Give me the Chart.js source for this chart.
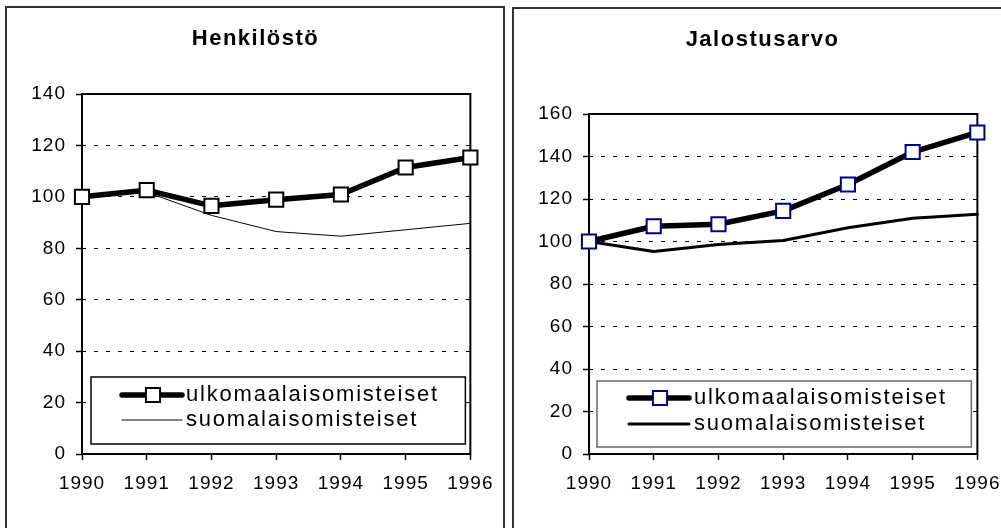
<!DOCTYPE html>
<html><head><meta charset="utf-8">
<script src="https://cdn.jsdelivr.net/npm/chart.js@4"></script>
<style>
html,body{margin:0;padding:0;background:#fff;}
body{width:1001px;height:528px;overflow:hidden;position:relative;}
.panel{position:absolute;border:2px solid #333;box-sizing:border-box;}
canvas{position:absolute;top:0;}
</style></head><body>
<div class="panel" style="left:5px;top:6px;width:500px;height:620px"></div>
<div class="panel" style="left:512px;top:7px;width:500px;height:620px"></div>
<canvas id="c1" width="497" height="528" style="left:7px"></canvas>
<canvas id="c2" width="497" height="528" style="left:514px"></canvas>
<script>
const years = ['1990','1991','1992','1993','1994','1995','1996'];
const seriesNames = ['ulkomaalaisomisteiset','suomalaisomisteiset'];
const titles = ['Henkilöstö','Jalostusarvo'];
const henkUlko = [100, 102.6, 96.5, 98.9, 100.9, 111.4, 115.3];
const henkSuomi = [100, 101.8, 92.8, 86.5, 84.7, 87.2, 89.7];
const jalUlko = [100, 107.2, 108.1, 114.4, 126.8, 142.1, 151.3];
const jalSuomi = [100, 95.3, 98.6, 100.5, 106.5, 110.9, 112.8];
const henkTicks = [0, 20, 40, 60, 80, 100, 120, 140];
const jalTicks = [0, 20, 40, 60, 80, 100, 120, 140, 160];

const FONT = "'Liberation Sans', Arial, Helvetica, sans-serif";
Chart.defaults.font.family = FONT;
Chart.defaults.color = '#000';

const spacingPlugin = {
  id: 'spacing',
  beforeDraw(chart) {
    const ctx = chart.ctx;
    if ('letterSpacing' in ctx) ctx.letterSpacing = '1px';
    const tb = chart.titleBlock;
    if (tb && !tb._spaced) {
      const orig = tb.draw;
      tb.draw = function (...args) {
        ctx.save();
        if ('letterSpacing' in ctx) ctx.letterSpacing = '1.5px';
        orig.apply(this, args);
        ctx.restore();
      };
      tb._spaced = true;
    }
  },
  afterDraw(chart) { if ('letterSpacing' in chart.ctx) chart.ctx.letterSpacing = '0px'; }
};

const framePlugin = {
  id: 'frame',
  beforeDatasetsDraw(chart, args, opts) {
    const {ctx, chartArea: a} = chart;
    ctx.save();
    ctx.strokeStyle = '#000';
    ctx.lineWidth = opts.width || 2;
    ctx.strokeRect(a.left, a.top, a.right - a.left, a.bottom - a.top);
    ctx.restore();
  }
};

const insideLegend = {
  id: 'insideLegend',
  afterDatasetsDraw(chart, args, o) {
    const {ctx, chartArea: a} = chart;
    const x = a.left + o.left, x2 = a.right - o.right;
    const y2 = a.bottom - o.bottom, y = y2 - o.height;
    ctx.save();
    ctx.fillStyle = '#fff';
    ctx.fillRect(x, y, x2 - x, y2 - y);
    ctx.strokeStyle = o.borderColor;
    ctx.lineWidth = 1.5;
    ctx.strokeRect(x, y, x2 - x, y2 - y);
    chart.data.datasets.forEach((ds, i) => {
      const cy = y + o.rows[i];
      const sx = x + o.sample;
      ctx.save();
      ctx.beginPath();
      ctx.lineWidth = ds.borderWidth;
      ctx.strokeStyle = ds.borderColor;
      ctx.lineCap = 'round';
      ctx.moveTo(sx, cy);
      ctx.lineTo(sx + 60, cy);
      ctx.stroke();
      if (ds.pointRadius > 0) {
        ctx.fillStyle = ds.pointBackgroundColor;
        ctx.strokeStyle = ds.pointBorderColor;
        ctx.lineWidth = ds.pointBorderWidth;
        Chart.helpers.drawPoint(ctx, {pointStyle: ds.pointStyle, rotation: 0, radius: ds.pointRadius, borderWidth: ds.pointBorderWidth}, sx + 31, cy);
      }
      ctx.restore();
      ctx.fillStyle = '#000';
      ctx.font = '22px ' + FONT;
      if ('letterSpacing' in ctx) ctx.letterSpacing = '1.8px';
      ctx.textAlign = 'left';
      ctx.textBaseline = 'middle';
      ctx.fillText(ds.label, x + o.text, cy);
    });
    ctx.restore();
  }
};

function makeChart(id, title, ulko, suomi, ticks, o) {
  const max = ticks[ticks.length - 1];
  return new Chart(document.getElementById(id), {
    type: 'line',
    data: {
      labels: years,
      datasets: [
        {label: seriesNames[0], data: ulko, borderColor: '#000', borderWidth: 5.5,
         pointStyle: 'rect', pointRadius: 10, pointHoverRadius: 10, pointBackgroundColor: '#fff',
         pointBorderColor: o.markerColor, pointBorderWidth: 2, tension: 0, clip: false,
         borderJoinStyle: 'round', borderCapStyle: 'round'},
        {label: seriesNames[1], data: suomi, borderColor: '#000', borderWidth: o.suomiWidth,
         pointRadius: 0, pointHoverRadius: 0, tension: 0, clip: false,
         borderJoinStyle: 'round', borderCapStyle: 'round'}
      ]
    },
    options: {
      responsive: false, animation: false, events: [], devicePixelRatio: 1,
      layout: {padding: {left: 0, right: 0, top: 0, bottom: 34}},
      plugins: {
        legend: {display: false}, tooltip: {enabled: false},
        title: {display: true, text: title, color: '#000', font: {size: 22, weight: 'bold', lineHeight: 1.2},
                padding: {top: o.titleTop, bottom: o.titleBottom}},
        frame: {width: 2},
        insideLegend: o.legend
      },
      scales: {
        x: {type: 'category', offset: false,
            grid: {drawOnChartArea: false, drawTicks: true, tickLength: 6, tickColor: '#000', tickWidth: 1.5, color: '#000'},
            border: {display: false},
            ticks: {color: '#000', font: {size: 19}, padding: 12.5, maxRotation: 0, autoSkip: false},
            afterFit(s) { s.height = 40; }},
        y: {type: 'linear', min: 0, max: max,
            afterBuildTicks(s) { s.ticks = ticks.map(v => ({value: v})); },
            grid: {color: c => (c.tick && (c.tick.value === 0 || c.tick.value === max)) ? 'rgba(0,0,0,0)' : '#000',
                   lineWidth: 1, drawTicks: true, tickLength: 6, tickColor: '#000', tickWidth: 1.5, borderDash: [4, 8]},
            border: {display: false, dash: [4, 8]},
            ticks: {color: '#000', font: {size: 19}, padding: 10},
            afterFit(s) { s.width = 75; }},
        pad: {type: 'linear', position: 'right', display: true,
              grid: {display: false}, border: {display: false}, ticks: {display: false},
              afterFit(s) { s.width = 33; }}
      }
    },
    plugins: [spacingPlugin, framePlugin, insideLegend]
  });
}

makeChart('c1', titles[0], henkUlko, henkSuomi, henkTicks, {
  markerColor: '#000', suomiWidth: 1, titleTop: 25.8, titleBottom: 41.8,
  legend: {left: 9, right: 5, bottom: 10, height: 67, rows: [18, 43], sample: 31, text: 95, borderColor: '#000'}
});
makeChart('c2', titles[1], jalUlko, jalSuomi, jalTicks, {
  markerColor: '#000080', suomiWidth: 3, titleTop: 26.8, titleBottom: 60.8,
  legend: {left: 8, right: 6, bottom: 7, height: 66, rows: [17, 43], sample: 32, text: 97, borderColor: '#666'}
});
</script>
</body></html>
